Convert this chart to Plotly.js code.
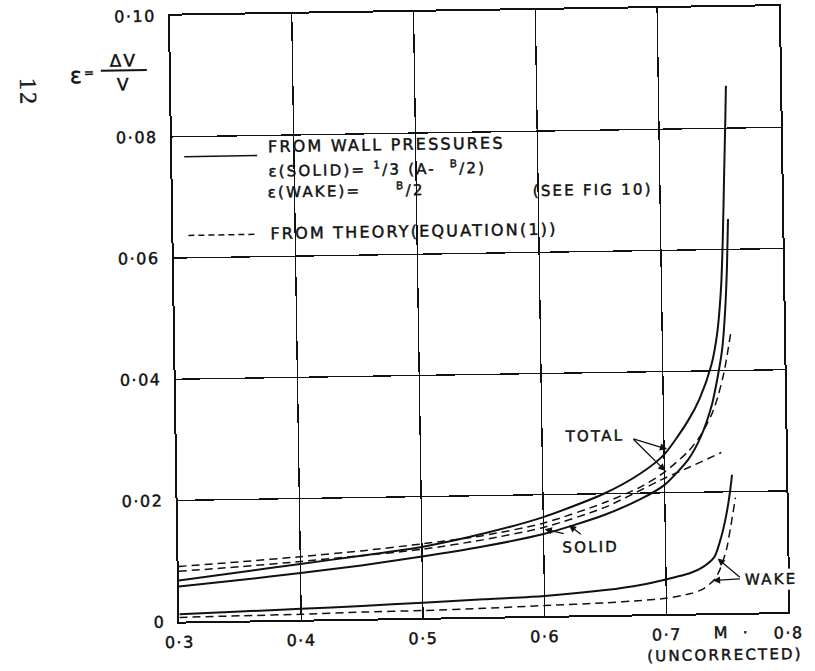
<!DOCTYPE html>
<html>
<head>
<meta charset="utf-8">
<script src="https://cdn.plot.ly/plotly-3.0.1.min.js"></script>
<style>
  html, body { margin: 0; padding: 0; background: #fff; overflow: hidden; }
  /* the sheet sits slightly askew on the page */
  #chart { width: 815px; height: 671px; transform: rotate(-0.9deg); transform-origin: 407.5px 335.5px; }
  /* wide, heavy hand-lettered look */
  .annotation-text { letter-spacing: 2.2px; stroke: #111; stroke-width: 0.45px; }
  .xtick text, .ytick text { letter-spacing: 1.5px; stroke: #111; stroke-width: 0.45px; }
</style>
</head>
<body>
<div id="chart"></div>
<script>
// Mach number M (uncorrected) and blockage factor epsilon = dV/V

// Total blockage, from wall pressures
const mTotalWall = [0.30, 0.35, 0.40, 0.45, 0.50, 0.55, 0.60, 0.65, 0.68, 0.70, 0.72, 0.73, 0.74, 0.745, 0.749, 0.751, 0.753, 0.7545, 0.7555];
const epsTotalWall = [0.0068, 0.0080, 0.0092, 0.0104, 0.0117, 0.0137, 0.0163, 0.0200, 0.0232, 0.0263, 0.0318, 0.0355, 0.0410, 0.0460, 0.0540, 0.0620, 0.0730, 0.0810, 0.0870];

// Solid blockage, from wall pressures
const mSolidWall = [0.30, 0.35, 0.40, 0.45, 0.50, 0.55, 0.60, 0.65, 0.68, 0.70, 0.72, 0.73, 0.74, 0.745, 0.749, 0.752, 0.754, 0.7555];
const epsSolidWall = [0.0058, 0.0067, 0.0077, 0.0088, 0.0101, 0.0116, 0.0135, 0.0165, 0.0190, 0.0213, 0.0255, 0.0290, 0.0345, 0.0390, 0.0435, 0.0500, 0.0570, 0.0650];

// Wake blockage, from wall pressures
const mWakeWall = [0.30, 0.35, 0.40, 0.45, 0.50, 0.55, 0.60, 0.65, 0.68, 0.70, 0.72, 0.73, 0.74, 0.745, 0.749, 0.752, 0.754, 0.7555];
const epsWakeWall = [0.0012, 0.0015, 0.0018, 0.0021, 0.0025, 0.0029, 0.0033, 0.0041, 0.0049, 0.0057, 0.0067, 0.0076, 0.0093, 0.0120, 0.0150, 0.0180, 0.0205, 0.0228];

// Total blockage, from theory (equation 1)
const mTotalTheory = [0.30, 0.35, 0.40, 0.45, 0.50, 0.55, 0.60, 0.65, 0.68, 0.70, 0.72, 0.73, 0.74, 0.745, 0.75, 0.753, 0.7565];
const epsTotalTheory = [0.0091, 0.0097, 0.0104, 0.0112, 0.0122, 0.0134, 0.0153, 0.0185, 0.0210, 0.0234, 0.0268, 0.0293, 0.0330, 0.0358, 0.0395, 0.0425, 0.0465];

// Solid blockage, from theory
const mSolidTheory = [0.30, 0.35, 0.40, 0.45, 0.50, 0.55, 0.60, 0.65, 0.70, 0.72, 0.747];
const epsSolidTheory = [0.0083, 0.0089, 0.0096, 0.0104, 0.0113, 0.0127, 0.0146, 0.0177, 0.0224, 0.0241, 0.0265];

// Wake blockage, from theory
const mWakeTheory = [0.30, 0.35, 0.40, 0.45, 0.50, 0.55, 0.60, 0.65, 0.68, 0.70, 0.72, 0.73, 0.74, 0.745, 0.75, 0.754, 0.758];
const epsWakeTheory = [0.0007, 0.0008, 0.0009, 0.0011, 0.0012, 0.0014, 0.0017, 0.0020, 0.0023, 0.0026, 0.0033, 0.0040, 0.0056, 0.0075, 0.0105, 0.0145, 0.0190];

// Axis ticks
const xTickVals = [0.3, 0.4, 0.5, 0.6, 0.7, 0.8];
const xTickText = ['0·3', '0·4', '0·5', '0·6', '0·7', '0·8'];
const yTickVals = [0, 0.02, 0.04, 0.06, 0.08, 0.10];
const yTickText = ['0', '0·02', '0·04', '0·06', '0·08', '0·10'];

// Frame geometry
const W = 815, H = 671;
const M = { l: 175, r: 31, t: 12, b: 53 };
const plotW = W - M.l - M.r, plotH = H - M.t - M.b;
const px = x => (x - M.l) / plotW;          // page pixel -> paper x
const py = y => (H - M.b - y) / plotH;      // page pixel -> paper y

const INK = '#111';
const FONT = 'DejaVu Sans';

function curve(x, y, dashed) {
  return {
    x: x, y: y, type: 'scatter', mode: 'lines', hoverinfo: 'skip',
    line: { color: INK, width: dashed ? 1.5 : 2, dash: dashed ? '8px,5px' : 'solid', shape: 'spline', smoothing: 0.7 }
  };
}

const data = [
  curve(mTotalWall, epsTotalWall, false),
  curve(mSolidWall, epsSolidWall, false),
  curve(mWakeWall, epsWakeWall, false),
  curve(mTotalTheory, epsTotalTheory, true),
  curve(mSolidTheory, epsSolidTheory, true),
  curve(mWakeTheory, epsWakeTheory, true)
];

function label(text, x, y, size, opts) {
  return Object.assign({
    text: text, x: x, y: y, xref: 'x', yref: 'y', showarrow: false,
    xanchor: 'left', yanchor: 'middle', font: { family: FONT, size: size, color: INK }
  }, opts || {});
}
function pointer(hx, hy, tx, ty) {
  return {
    text: '', x: hx, y: hy, ax: tx, ay: ty, xref: 'x', yref: 'y', axref: 'x', ayref: 'y',
    showarrow: true, arrowhead: 2, arrowsize: 1.1, arrowwidth: 1.3, arrowcolor: INK,
    standoff: 0, startstandoff: 0, borderpad: 0
  };
}
function pageText(text, x, y, size, opts) {
  return Object.assign({
    text: text, x: px(x), y: py(y), xref: 'paper', yref: 'paper', showarrow: false,
    xanchor: 'center', yanchor: 'middle', font: { family: FONT, size: size, color: INK }
  }, opts || {});
}

const annotations = [
  // key
  label('FROM WALL PRESSURES', 0.378, 0.0781, 16, { borderpad: 0 }),
  label('ε(SOLID)= <sup>1</sup>/3 (A-  <sup>B</sup>/2)', 0.378, 0.0743, 15, { borderpad: 0 }),
  label('ε(WAKE)=\u00a0\u00a0\u00a0\u00a0 <sup>B</sup>/2', 0.377, 0.0708, 15, { borderpad: 0 }),
  label('(SEE FIG 10)', 0.594, 0.0702, 15),
  label('FROM THEORY(EQUATION(1))', 0.378, 0.0638, 16),

  // curve names
  label('TOTAL', 0.6434, 0.0295, 15, { xanchor: 'center' }),
  label('SOLID', 0.639, 0.0113, 15, { xanchor: 'center' }),
  label('WAKE', 0.786, 0.0055, 15, { xanchor: 'center', bgcolor: '#fff', borderpad: 1 }),
  pointer(0.7025, 0.0272, 0.6746, 0.0290),
  pointer(0.7008, 0.0236, 0.6746, 0.0290),
  pointer(0.601, 0.0143, 0.617, 0.0135),
  pointer(0.621, 0.0149, 0.631, 0.0133),
  pointer(0.7426, 0.0090, 0.761, 0.0058),
  pointer(0.7385, 0.0054, 0.761, 0.0056),

  // axis captions
  { text: 'M', x: 0.745, y: py(637), xref: 'x', yref: 'paper', showarrow: false,
    xanchor: 'center', yanchor: 'middle', font: { family: FONT, size: 16, color: INK } },
  { text: '·', x: 0.7655, y: py(637), xref: 'x', yref: 'paper', showarrow: false,
    xanchor: 'center', yanchor: 'middle', font: { family: FONT, size: 16, color: INK } },
  pageText('(UNCORRECTED)', 720, 660, 15),
  pageText('ε', 81, 70, 22),
  pageText('=', 94, 68, 12),
  pageText('ΔV', 128, 56, 17),
  pageText('V', 128, 80, 17),

  // page number
  pageText('12', 32, 86, 24, { textangle: 90, font: { family: 'Liberation Serif', size: 24, color: '#222' } })
];

const shapes = [
  // key samples
  { type: 'line', xref: 'x', yref: 'y', x0: 0.3099, x1: 0.3698, y0: 0.0767, y1: 0.0767,
    line: { color: INK, width: 1.6 } },
  { type: 'line', xref: 'x', yref: 'y', x0: 0.3123, x1: 0.3673, y0: 0.0637, y1: 0.0637,
    line: { color: INK, width: 1.5, dash: '6px,4px' } },
  // fraction bar of the axis caption
  { type: 'line', xref: 'paper', yref: 'paper', x0: px(105), x1: px(151), y0: py(66), y1: py(66),
    line: { color: INK, width: 2 } }
];

const axisCommon = {
  showgrid: true, gridcolor: INK, gridwidth: 1.3,
  showline: true, linecolor: INK, linewidth: 2, mirror: true,
  zeroline: false, ticks: '', fixedrange: true,
  tickfont: { family: FONT, size: 16, color: INK }
};

const layout = {
  width: W, height: H, margin: M,
  paper_bgcolor: '#fff', plot_bgcolor: '#fff',
  showlegend: false,
  font: { family: FONT, color: INK },
  xaxis: Object.assign({}, axisCommon, {
    range: [0.3, 0.8], tickmode: 'array', tickvals: xTickVals, ticktext: xTickText,
    ticklabelstandoff: 5
  }),
  yaxis: Object.assign({}, axisCommon, {
    range: [0, 0.1], tickmode: 'array', tickvals: yTickVals, ticktext: yTickText,
    ticklabelstandoff: 9
  }),
  annotations: annotations,
  shapes: shapes
};

Plotly.newPlot('chart', data, layout, { staticPlot: true, displayModeBar: false });
</script>
</body>
</html>
